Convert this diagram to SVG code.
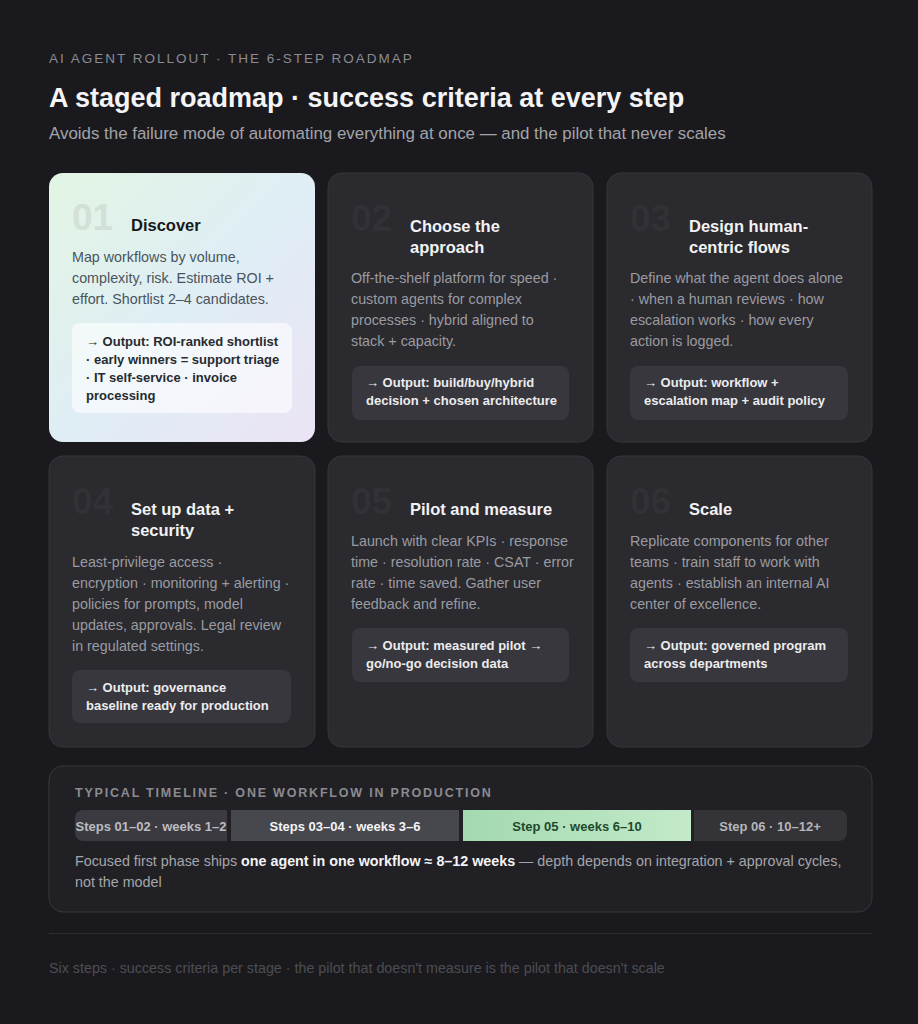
<svg xmlns="http://www.w3.org/2000/svg" width="918" height="1024" viewBox="0 0 918 1024">
<defs>
<linearGradient id="g1" x1="0" y1="0" x2="1" y2="1">
<stop offset="0" stop-color="#e2f5e3"/>
<stop offset="0.5" stop-color="#dfeef5"/>
<stop offset="1" stop-color="#ebe3f5"/>
</linearGradient>
<linearGradient id="gGreen" x1="0" y1="0" x2="1" y2="0">
<stop offset="0" stop-color="#a3d9b0"/>
<stop offset="1" stop-color="#c3eac9"/>
</linearGradient>
<clipPath id="barClip"><rect x="75" y="810" width="772" height="31" rx="8"/></clipPath>
<style>
text{font-family:"Liberation Sans",Arial,Helvetica,sans-serif}
.card{fill:#2a2a2f;stroke:#35353b;stroke-width:1}
.num{font-size:37px;font-weight:700;fill:#313136}
.num1{font-size:37px;font-weight:700;fill:#d3e0d6}
.title{font-size:16.5px;font-weight:700;fill:#f2f2f4}
.title1{font-size:16.5px;font-weight:700;fill:#17191c}
.body{font-size:14.3px;fill:#9b9ba1}
.body1{font-size:14.3px;fill:#4b545c}
.obox{fill:#37373d}
.obox1{fill:#ffffff;fill-opacity:0.6}
.out{font-size:13px;font-weight:700;fill:#ececee}
.out1{font-size:13px;font-weight:700;fill:#262b30}
.seg{font-size:13px;font-weight:700;text-anchor:middle}
</style>
</defs>
<rect width="918" height="1024" fill="#1a1a1e"/>

<g id="header">
<text x="49" y="63" font-size="13.5" letter-spacing="2" fill="#8b8b91">AI AGENT ROLLOUT · THE 6-STEP ROADMAP</text>
<text x="49" y="107" font-size="27" font-weight="700" fill="#f4f4f6">A staged roadmap · success criteria at every step</text>
<text x="49" y="139" font-size="16.9" fill="#a3a3a9">Avoids the failure mode of automating everything at once — and the pilot that never scales</text>
</g>

<g id="step01">
<rect x="49" y="173" width="266" height="269" rx="14" fill="url(#g1)"/>
<text class="num1" x="72" y="230">01</text>
<text class="title1" x="131" y="231">Discover</text>
<text class="body1" x="72" y="262">Map workflows by volume,</text>
<text class="body1" x="72" y="283">complexity, risk. Estimate ROI +</text>
<text class="body1" x="72" y="304">effort. Shortlist 2–4 candidates.</text>
<rect class="obox1" x="72" y="323" width="220" height="90" rx="8"/>
<text class="out1" x="86" y="346">→ Output: ROI-ranked shortlist</text>
<text class="out1" x="86" y="364">· early winners = support triage</text>
<text class="out1" x="86" y="382">· IT self-service · invoice</text>
<text class="out1" x="86" y="400">processing</text>
</g>

<g id="step02">
<rect class="card" x="328" y="173" width="265" height="269" rx="14"/>
<text class="num" x="351" y="231">02</text>
<text class="title" x="410" y="232">Choose the</text>
<text class="title" x="410" y="253">approach</text>
<text class="body" x="351" y="283">Off-the-shelf platform for speed ·</text>
<text class="body" x="351" y="304">custom agents for complex</text>
<text class="body" x="351" y="325">processes · hybrid aligned to</text>
<text class="body" x="351" y="346">stack + capacity.</text>
<rect class="obox" x="352" y="366" width="217" height="54" rx="8"/>
<text class="out" x="366" y="387">→ Output: build/buy/hybrid</text>
<text class="out" x="366" y="405">decision + chosen architecture</text>
</g>

<g id="step03">
<rect class="card" x="607" y="173" width="265" height="269" rx="14"/>
<text class="num" x="630" y="231">03</text>
<text class="title" x="689" y="232">Design human-</text>
<text class="title" x="689" y="253">centric flows</text>
<text class="body" x="630" y="283">Define what the agent does alone</text>
<text class="body" x="630" y="304">· when a human reviews · how</text>
<text class="body" x="630" y="325">escalation works · how every</text>
<text class="body" x="630" y="346">action is logged.</text>
<rect class="obox" x="630" y="366" width="218" height="54" rx="8"/>
<text class="out" x="644" y="387">→ Output: workflow +</text>
<text class="out" x="644" y="405">escalation map + audit policy</text>
</g>

<g id="step04">
<rect class="card" x="49" y="456" width="266" height="291" rx="14"/>
<text class="num" x="72" y="514">04</text>
<text class="title" x="131" y="515">Set up data +</text>
<text class="title" x="131" y="536">security</text>
<text class="body" x="72" y="567">Least-privilege access ·</text>
<text class="body" x="72" y="588">encryption · monitoring + alerting ·</text>
<text class="body" x="72" y="609">policies for prompts, model</text>
<text class="body" x="72" y="630">updates, approvals. Legal review</text>
<text class="body" x="72" y="651">in regulated settings.</text>
<rect class="obox" x="72" y="670" width="219" height="53" rx="8"/>
<text class="out" x="86" y="692">→ Output: governance</text>
<text class="out" x="86" y="710">baseline ready for production</text>
</g>

<g id="step05">
<rect class="card" x="328" y="456" width="265" height="291" rx="14"/>
<text class="num" x="351" y="514">05</text>
<text class="title" x="410" y="515">Pilot and measure</text>
<text class="body" x="351" y="546">Launch with clear KPIs · response</text>
<text class="body" x="351" y="567">time · resolution rate · CSAT · error</text>
<text class="body" x="351" y="588">rate · time saved. Gather user</text>
<text class="body" x="351" y="609">feedback and refine.</text>
<rect class="obox" x="352" y="628" width="217" height="54" rx="8"/>
<text class="out" x="366" y="650">→ Output: measured pilot →</text>
<text class="out" x="366" y="668">go/no-go decision data</text>
</g>

<g id="step06">
<rect class="card" x="607" y="456" width="265" height="291" rx="14"/>
<text class="num" x="630" y="514">06</text>
<text class="title" x="689" y="515">Scale</text>
<text class="body" x="630" y="546">Replicate components for other</text>
<text class="body" x="630" y="567">teams · train staff to work with</text>
<text class="body" x="630" y="588">agents · establish an internal AI</text>
<text class="body" x="630" y="609">center of excellence.</text>
<rect class="obox" x="630" y="628" width="218" height="54" rx="8"/>
<text class="out" x="644" y="650">→ Output: governed program</text>
<text class="out" x="644" y="668">across departments</text>
</g>

<g id="timeline">
<rect x="49" y="766" width="823" height="146" rx="14" fill="#212125" stroke="#36363c" stroke-width="1"/>
<text x="75" y="797" font-size="12.5" font-weight="700" letter-spacing="1.8" fill="#8b8b91">TYPICAL TIMELINE · ONE WORKFLOW IN PRODUCTION</text>
<g clip-path="url(#barClip)">
<rect x="75" y="810" width="152" height="31" fill="#3a3a40"/>
<rect x="231" y="810" width="228" height="31" fill="#47474e"/>
<rect x="463" y="810" width="228" height="31" fill="url(#gGreen)"/>
<rect x="694" y="810" width="153" height="31" fill="#333338"/>
</g>
<text class="seg" x="151" y="831" fill="#bcbcc1">Steps 01–02 · weeks 1–2</text>
<text class="seg" x="345" y="831" fill="#f4f4f6">Steps 03–04 · weeks 3–6</text>
<text class="seg" x="577" y="831" fill="#1e4a2b">Step 05 · weeks 6–10</text>
<text class="seg" x="770" y="831" fill="#b5b5ba">Step 06 · 10–12+</text>
<text x="75" y="866" font-size="14.3" fill="#a5a5ab">Focused first phase ships <tspan font-weight="700" fill="#f4f4f6">one agent in one workflow ≈ 8–12 weeks</tspan> — depth depends on integration + approval cycles,</text>
<text x="75" y="887" font-size="14.3" fill="#a5a5ab">not the model</text>
</g>

<g id="footer">
<line x1="49" y1="933.5" x2="872" y2="933.5" stroke="#2c2c31" stroke-width="1"/>
<text x="49" y="973" font-size="14.3" fill="#4d4d53">Six steps · success criteria per stage · the pilot that doesn't measure is the pilot that doesn't scale</text>
</g>
</svg>
